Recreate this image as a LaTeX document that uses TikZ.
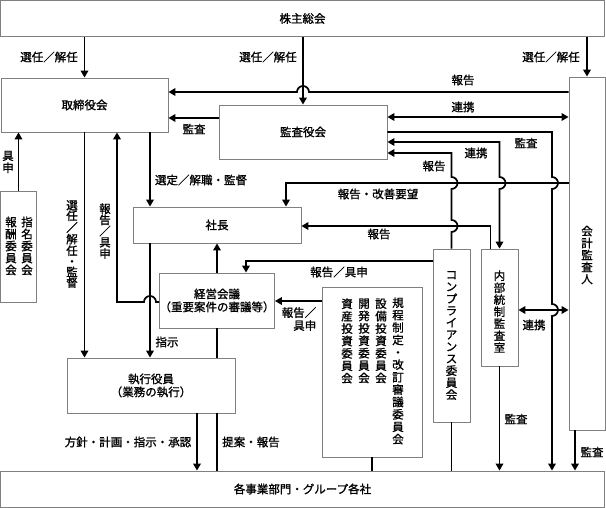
\documentclass[tikz,border=0pt]{standalone}
\usepackage{fontspec}
\setmainfont{Noto Sans CJK JP}[RawFeature={embolden=1.2}]
\usepackage{tikz}
\usetikzlibrary{arrows.meta}
\tikzset{box/.style={draw=black!50, fill=white, line width=0.8pt, inner sep=0pt, align=center}}
\tikzset{lbl/.style={inner sep=0pt, align=center}}
\tikzset{vtxt/.style={inner sep=0pt, align=center, font=\fontsize{11.5}{12}\selectfont}}
\tikzset{wire/.style={line width=1.7pt}}
\tikzset{flow/.style={wire, -{Triangle[length=7pt,width=7.5pt]}}}
\tikzset{mutual/.style={wire, {Triangle[length=7pt,width=7.5pt]}-{Triangle[length=7pt,width=7.5pt]}}}

\begin{document}
\begin{tikzpicture}[x=1pt, y=-1pt, font=\fontsize{11.5}{13}\selectfont]
\useasboundingbox (0,0) rectangle (606,508);
\node (soukai) at (302.5,18.5)[box, minimum width=604pt, minimum height=36pt]{株主総会};
\node (torishimari) at (84.5,105)[box, minimum width=167pt, minimum height=54pt]{取締役会};
\node (kansayaku) at (303,132)[box, minimum width=168pt, minimum height=54pt]{監査役会};
\node (kaikei) at (587,253.5)[box, minimum width=36pt, minimum height=353pt]{};
\node (shimei) at (18.5,246.5)[box, minimum width=36pt, minimum height=111pt]{};
\node (shacho) at (217,225)[box, minimum width=168pt, minimum height=36pt]{社長};
\node (keiei) at (217,300.5)[box, minimum width=113pt, minimum height=55pt]{経営会議\\（重要案件の審議等）};
\node (iinkai) at (372,372)[box, minimum width=100pt, minimum height=170pt]{};
\node (compl) at (451.5,335.5)[box, minimum width=37pt, minimum height=173pt]{};
\node (naibu) at (499.5,307.5)[box, minimum width=37pt, minimum height=117pt]{};
\node (shikko) at (151,385.5)[box, minimum width=168pt, minimum height=55pt]{執行役員\\（業務の執行）};
\node (jigyo) at (302.5,489)[box, minimum width=604pt, minimum height=36pt]{各事業部門・グループ各社};

% vertical texts in the boxes
\node (kaikeiT) at (587,255)[vtxt]{会\\計\\監\\査\\人};
\node (shimeiT) at (27,246)[vtxt]{指\\名\\委\\員\\会};
\node (houshuT) at (11,246)[vtxt]{報\\酬\\委\\員\\会};
\node (iinA) at (398,371)[vtxt, font=\fontsize{11.5}{12.4}\selectfont]{規\\程\\制\\定\\・\\改\\訂\\審\\議\\委\\員\\会};
\node (iinB) at (381,341)[vtxt, font=\fontsize{11.5}{12.4}\selectfont]{設\\備\\投\\資\\委\\員\\会};
\node (iinC) at (364,341)[vtxt, font=\fontsize{11.5}{12.4}\selectfont]{開\\発\\投\\資\\委\\員\\会};
\node (iinD) at (347,341)[vtxt, font=\fontsize{11.5}{12.4}\selectfont]{資\\産\\投\\資\\委\\員\\会};
\node (complT) at (451.5,335.5)[vtxt]{コ\\ン\\プ\\ラ\\イ\\ア\\ン\\ス\\委\\員\\会};
\node (naibuT) at (499.5,311.5)[vtxt]{内\\部\\統\\制\\監\\査\\室};

% shareholders
\draw[flow] (soukai.south -| torishimari.north) -- (torishimari.north);
\draw[flow] (soukai.south -| kansayaku.north) -- (kansayaku.north);
\draw[flow] (soukai.south -| kaikei.north) -- (kaikei.north);
\node (l1) at (49,57)[lbl]{選任／解任};
\node (l2) at (268,57)[lbl]{選任／解任};
\node (l3) at (551,57)[lbl]{選任／解任};

% auditors
\draw[flow] (kaikei.west |- 0,92) -- (309,92) arc[start angle=0, end angle=-180, radius=6] -- (torishimari.east |- 0,92);
\draw[mutual] (kansayaku.east |- 0,117) -- (kaikei.west |- 0,117);
\draw[flow] (kansayaku.west |- 0,118) -- (torishimari.east |- 0,118);
\draw[flow] (kansayaku.east |- 0,132) -- (552,132) -- (552,177) arc[start angle=-90, end angle=90, radius=6] -- (552,304) arc[start angle=-90, end angle=90, radius=6] -- (jigyo.north -| 552,0);
\draw[mutual] (kansayaku.east |- 0,142) -- (499.5,142) -- (499.5,177) arc[start angle=-90, end angle=90, radius=6] -- (naibu.north);
\draw[flow] (compl.north) -- (451.5,232) arc[start angle=90, end angle=-90, radius=6] -- (451.5,189) arc[start angle=90, end angle=-90, radius=6] -- (451.5,153) -- (kansayaku.east |- 0,153);
\draw[flow] (kaikei.west |- 0,183) -- (286,183) -- (shacho.north -| 286,0);
\draw[flow] ([xshift=-9pt]naibu.north) |- (shacho.east |- 0,226);
\node (l4) at (463,80)[lbl]{報告};
\node (l5) at (463,107)[lbl]{連携};
\node (l6) at (194,129)[lbl]{監査};
\node (l7) at (526,143)[lbl]{監査};
\node (l8) at (476,153)[lbl]{連携};
\node (l9) at (434,166)[lbl]{報告};
\node (l10) at (378,194)[lbl]{報告・改善要望};
\node (l11) at (379,234)[lbl]{報告};

% management
\draw[flow] (compl.west |- 0,261) -| (keiei.north -| 246,0);
\draw[flow] (iinkai.west |- 0,301) -- (keiei.east |- 0,301);
\draw[flow] (keiei.north) -- (shacho.south);
\draw[wire] (jigyo.north -| keiei.south) -- (shikko.south -| keiei.south);
\draw[wire] (shikko.north -| keiei.south) -- (keiei.south);
\draw[flow] (shikko.south -| 197,0) -- (jigyo.north -| 197,0);
\draw[flow] (shacho.south -| 150,0) -- (shikko.north -| 150,0);
\draw[flow] (torishimari.south -| 150,0) -- (shacho.north -| 150,0);
\draw[flow] (torishimari.south) -- (shikko.north -| torishimari.south);
\draw[flow] (keiei.west |- 0,302) -- (156,302) arc[start angle=0, end angle=-180, radius=6] -- (117,302) -- (torishimari.south -| 117,0);
\draw[flow] (shimei.north) -- (torishimari.south -| shimei.north);
\node (l12) at (339,272)[lbl]{報告／具申};
\node (l13) at (299,319)[lbl, align=right]{報告／\\具申};
\node (l14) at (105,231)[vtxt, font=\fontsize{11.5}{11.2}\selectfont]{報\\告\\／\\具\\申};
\node (l15) at (72,244)[vtxt, font=\fontsize{11.5}{10.6}\selectfont]{選\\任\\／\\解\\任\\・\\監\\督};
\node (l16) at (201,180)[lbl]{選定／解職・監督};
\node (l17) at (8,162)[vtxt]{具\\申};
\node (l18) at (167,342)[lbl]{指示};
\node (l19) at (128,442)[lbl]{方針・計画・指示・承認};
\node (l20) at (251,442)[lbl]{提案・報告};

% down to the business units
\draw[mutual] (naibu.east |- 0,310) -- (kaikei.west |- 0,310);
\draw[flow] (naibu.south) -- (jigyo.north -| naibu.south);
\draw[flow] ([xshift=-12pt]kaikei.south) -- (jigyo.north -| 575,0);
\draw[wire] (iinkai.south) -- (jigyo.north -| iinkai.south);
\draw[wire] (compl.south) -- (jigyo.north -| compl.south);
\node (l21) at (534,325)[lbl]{連携};
\node (l22) at (516,419)[lbl]{監査};
\node (l23) at (592,452)[lbl]{監査};
\end{tikzpicture}
\end{document}
